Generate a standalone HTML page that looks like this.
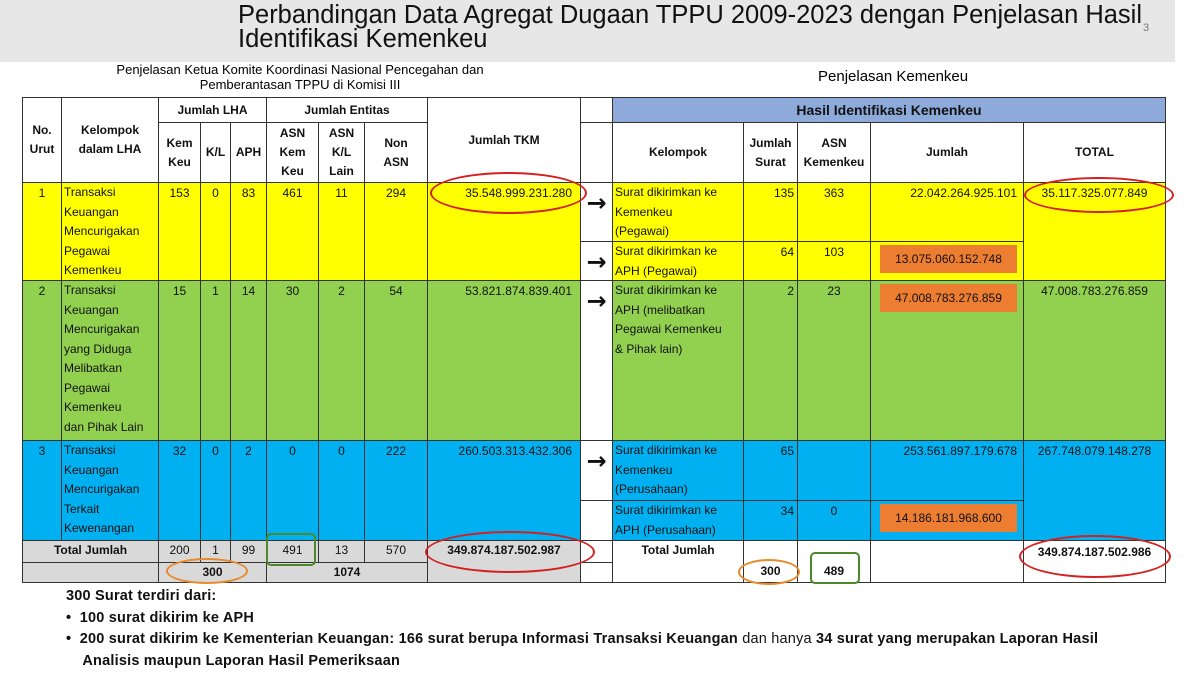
<!DOCTYPE html>
<html><head><meta charset="utf-8">
<style>
body{margin:0;width:1200px;height:673px;background:#fff;position:relative;overflow:hidden;font-family:"Liberation Sans Narrow","Liberation Sans",sans-serif;}
.c{position:absolute;box-sizing:border-box;border:1px solid #333;font-size:12px;line-height:19.5px;color:#111;overflow:hidden;}
.h{font-weight:bold;display:flex;align-items:center;justify-content:center;text-align:center;line-height:19px;}
.t{position:absolute;white-space:nowrap;}
.ov{position:absolute;box-sizing:border-box;}
</style></head>
<body>
<div style="position:absolute;left:0;top:0;width:1175px;height:62px;background:#e7e7e7;"></div>
<div class="t" style="left:238px;top:3px;font-family:'Liberation Sans',sans-serif;font-size:25.5px;line-height:24px;color:#111;">Perbandingan Data Agregat Dugaan TPPU 2009-2023 dengan Penjelasan Hasil<br>Identifikasi Kemenkeu</div>
<div class="t" style="left:1143px;top:22px;font-size:11px;color:#777;">3</div>
<div class="t" style="left:60px;width:480px;top:62px;text-align:center;font-family:'Liberation Sans',sans-serif;font-size:13px;line-height:15px;">Penjelasan Ketua Komite Koordinasi Nasional Pencegahan dan<br>Pemberantasan TPPU di Komisi III</div>
<div class="t" style="left:818px;top:68px;font-family:'Liberation Sans',sans-serif;font-size:15px;">Penjelasan Kemenkeu</div>
<div class="t" style="left:66px;top:586px;font-weight:bold;font-size:14.5px;line-height:21.5px;color:#111;letter-spacing:0.2px;">300 Surat terdiri dari:<br>•&nbsp; 100 surat dikirim ke APH<br>•&nbsp; 200 surat dikirim ke Kementerian Keuangan: 166 surat berupa Informasi Transaksi Keuangan <span style="font-weight:normal">dan hanya</span> 34 surat yang merupakan Laporan Hasil<br>&nbsp;&nbsp;&nbsp; Analisis maupun Laporan Hasil Pemeriksaan</div>
<script>
const Y='#ffff00',G='#92d050',B='#00b0f0',W='#ffffff',GR='#d9d9d9',HB='#8eaadb',OR='#ed7d31';
const root=document.body;
function cell(x1,y1,x2,y2,bg,html,cls,align,name,pad){
  const d=document.createElement('div');
  d.className='c '+(cls||'');
  d.style.left=x1+'px';d.style.top=y1+'px';d.style.width=(x2-x1+1)+'px';d.style.height=(y2-y1+1)+'px';
  d.style.background=bg;
  if(!cls){d.style.textAlign=align||'center';d.style.padding=(pad===undefined?'1px 3px':pad);}
  d.innerHTML=html;
  
  
  root.appendChild(d);return d;
}
cell(22,97,61,182,W,'No.<br>Urut','h','', 'header-no-urut');
cell(61,97,158,182,W,'Kelompok<br>dalam LHA','h','','header-kelompok-lha');
cell(158,97,266,122,W,'Jumlah LHA','h','','header-jumlah-lha');
cell(266,97,427,122,W,'Jumlah Entitas','h','','header-jumlah-entitas');
cell(427,97,580,182,W,'Jumlah TKM','h','','header-jumlah-tkm');
cell(158,122,200,182,W,'Kem<br>Keu','h','','header-kemkeu');
cell(200,122,230,182,W,'K/L','h','','header-kl');
cell(230,122,266,182,W,'APH','h','','header-aph');
cell(266,122,318,182,W,'ASN<br>Kem<br>Keu','h','','header-asn-kemkeu');
cell(318,122,364,182,W,'ASN<br>K/L<br>Lain','h','','header-asn-kl-lain');
cell(364,122,427,182,W,'Non<br>ASN','h','','header-non-asn');
const cols=[[158,200],[200,230],[230,266],[266,318],[318,364],[364,427]];
const rowsL=[
 [182,280,Y,'1','Transaksi<br>Keuangan<br>Mencurigakan<br>Pegawai<br>Kemenkeu',['153','0','83','461','11','294'],'35.548.999.231.280'],
 [280,440,G,'2','Transaksi<br>Keuangan<br>Mencurigakan<br>yang Diduga<br>Melibatkan<br>Pegawai<br>Kemenkeu<br>dan Pihak Lain',['15','1','14','30','2','54'],'53.821.874.839.401'],
 [440,540,B,'3','Transaksi<br>Keuangan<br>Mencurigakan<br>Terkait<br>Kewenangan',['32','0','2','0','0','222'],'260.503.313.432.306']];
rowsL.forEach((r,i)=>{
 cell(22,r[0],61,r[1],r[2],r[3],'','center','row'+(i+1)+'-no');
 cell(61,r[0],158,r[1],r[2],r[4],'','left','row'+(i+1)+'-kelompok','0 2px');
 cols.forEach((c,j)=>cell(c[0],r[0],c[1],r[1],r[2],r[5][j],'','center','row'+(i+1)+'-col'+(j+1)));
 cell(427,r[0],580,r[1],r[2],r[6],'','right','row'+(i+1)+'-jumlah-tkm','1px 8px');
});
cell(22,540,158,562,GR,'<b>Total Jumlah</b>','','center','total-label-left','0');
['200','1','99','491','13','570'].forEach((v,j)=>cell(cols[j][0],540,cols[j][1],562,GR,v,'','center','total-col'+(j+1),'0'));
cell(427,540,580,582,GR,'<b>349.874.187.502.987</b>','','center','total-tkm-left','0');
cell(22,562,158,582,GR,'','','center','total-blank','0');
cell(158,562,266,582,GR,'<b>300</b>','','center','total-lha-sum','0');
cell(266,562,427,582,GR,'<b>1074</b>','','center','total-entitas-sum','0');
cell(580,97,612,122,W,'','','center','arrow-col-head1');
cell(580,122,612,182,W,'','','center','arrow-col-head2');
[[182,241,1],[241,280,1],[280,440,1],[440,500,1],[500,540,0],[540,562,0],[562,582,0]].forEach((a,i)=>{
 cell(580,a[0],612,a[1],W,a[2]?'<span style="font-size:24px;font-weight:bold;font-family:DejaVu Sans,sans-serif;line-height:24px;">→</span>':'','','center','arrow-'+(i+1),'8px 0 0 0');
});
cell(612,97,1165,122,HB,'<span style="font-size:14px">Hasil Identifikasi Kemenkeu</span>','h','','header-hasil-identifikasi');
cell(612,122,743,182,W,'Kelompok','h','','header-kelompok');
cell(743,122,797,182,W,'Jumlah<br>Surat','h','','header-jumlah-surat');
cell(797,122,870,182,W,'ASN<br>Kemenkeu','h','','header-asn-kemenkeu');
cell(870,122,1023,182,W,'Jumlah','h','','header-jumlah');
cell(1023,122,1165,182,W,'TOTAL','h','','header-total');
const rowsR=[
 [182,241,Y,'Surat dikirimkan ke<br>Kemenkeu<br>(Pegawai)','135','363','22.042.264.925.101',0],
 [241,280,Y,'Surat dikirimkan ke<br>APH (Pegawai)','64','103','13.075.060.152.748',1],
 [280,440,G,'Surat dikirimkan ke<br>APH (melibatkan<br>Pegawai Kemenkeu<br>&amp; Pihak lain)','2','23','47.008.783.276.859',1],
 [440,500,B,'Surat dikirimkan ke<br>Kemenkeu<br>(Perusahaan)','65','','253.561.897.179.678',0],
 [500,540,B,'Surat dikirimkan ke<br>APH (Perusahaan)','34','0','14.186.181.968.600',1]];
rowsR.forEach((r,i)=>{
 cell(612,r[0],743,r[1],r[2],r[3],'','left','right-row'+(i+1)+'-kelompok','0 2px');
 cell(743,r[0],797,r[1],r[2],r[4],'','right','right-row'+(i+1)+'-jumlah-surat','1px 3px');
 cell(797,r[0],870,r[1],r[2],r[5],'','center','right-row'+(i+1)+'-asn','1px 3px');
 const c=cell(870,r[0],1023,r[1],r[2],r[7]?'':r[6],'','right','right-row'+(i+1)+'-jumlah','1px 6px');
 if(r[7]){
  const o=document.createElement('div');
  o.style.cssText='position:absolute;left:9px;top:3px;width:137px;height:28px;background:'+OR+';text-align:center;line-height:28px;';
  o.textContent=r[6];
  
  
  c.appendChild(o);
 }
});
cell(1023,182,1165,280,Y,'35.117.325.077.849','','center','total-row1','1px 3px');
cell(1023,280,1165,440,G,'47.008.783.276.859','','center','total-row2','1px 3px');
cell(1023,440,1165,540,B,'267.748.079.148.278','','center','total-row3','1px 3px');
cell(612,540,743,582,W,'<b>Total Jumlah</b>','','center','total-label-right','0');
cell(743,540,797,582,W,'<div style="margin-top:21px"><b>300</b></div>','','center','total-surat-right','0');
cell(797,540,870,582,W,'<div style="margin-top:21px"><b>489</b></div>','','center','total-asn-right','0');
cell(870,540,1023,582,W,'','','center','total-jumlah-blank','0');
cell(1023,540,1165,582,W,'<b>349.874.187.502.986</b>','','center','total-right','2px 0');
function ov(x,y,w,h,col,rad,name){
 const d=document.createElement('div');d.className='ov';
 d.style.cssText+='left:'+x+'px;top:'+y+'px;width:'+w+'px;height:'+h+'px;border:2px solid '+col+';border-radius:'+rad+';';
 
 
 root.appendChild(d);
}
ov(430,172,157,42,'#d42020','50%','red-ellipse-tkm-row1');
ov(1024,177,150,36,'#d42020','50%','red-ellipse-total-row1');
ov(425,531,170,42,'#d42020','50%','red-ellipse-total-left');
ov(1019,535,152,43,'#d42020','50%','red-ellipse-total-right');
ov(166,558,82,26,'#e8892b','50%','orange-ellipse-300-left');
ov(738,559,62,26,'#e8892b','50%','orange-ellipse-300-right');
ov(266,533,50,33,'#4a8a2a','5px','green-box-491');
ov(810,552,50,32,'#4a8a2a','5px','green-box-489');
</script>
</body></html>
